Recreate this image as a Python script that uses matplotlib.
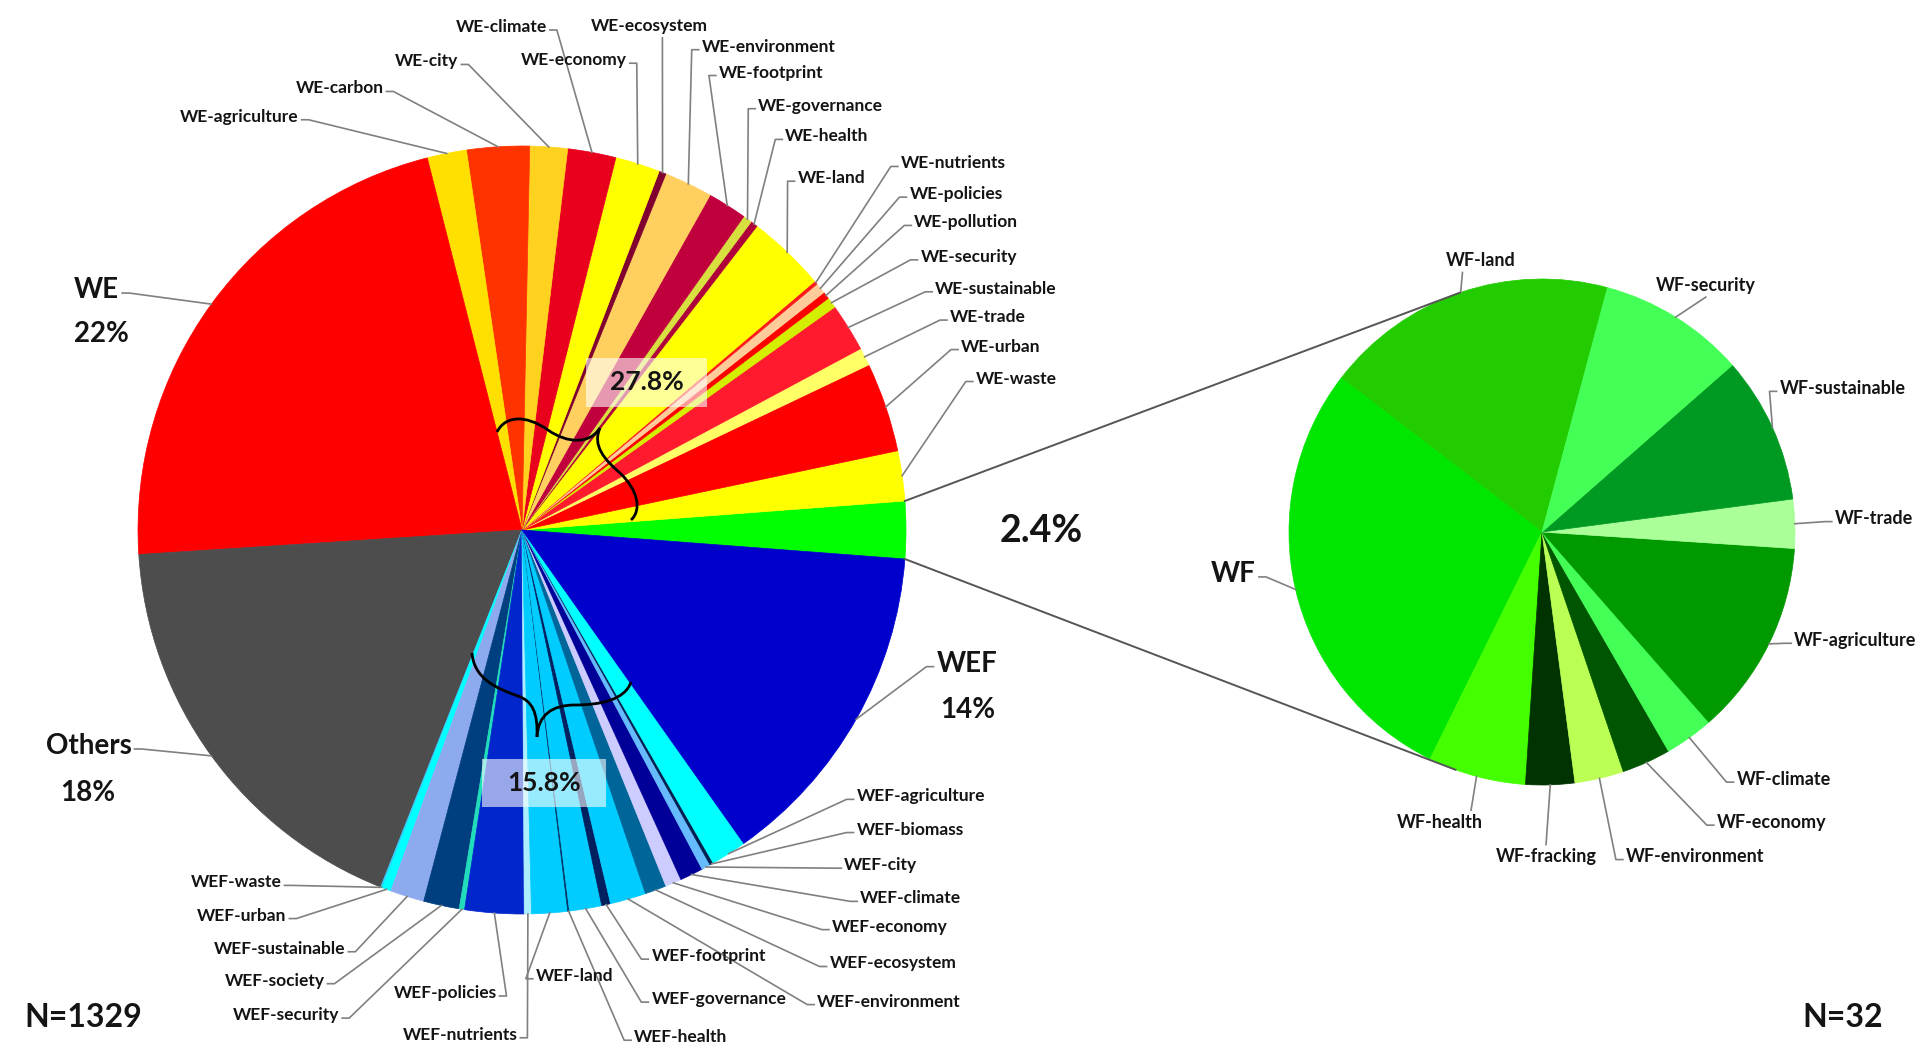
import matplotlib
matplotlib.use('Agg')
import matplotlib.pyplot as plt
from matplotlib.path import Path
from matplotlib.patches import PathPatch, Rectangle
import numpy as np

# ---------------- data ----------------
total_n = 1329
wf_count = 32
we_sub_names = ['WE-waste', 'WE-urban', 'WE-trade', 'WE-sustainable', 'WE-security',
                'WE-pollution', 'WE-policies', 'WE-nutrients', 'WE-land', 'WE-health',
                'WE-governance', 'WE-footprint', 'WE-environment', 'WE-ecosystem',
                'WE-economy', 'WE-climate', 'WE-city', 'WE-carbon', 'WE-agriculture']
we_sub_counts = [28, 50, 10, 27, 6, 4, 6, 2, 44, 4, 5, 22, 27, 4, 25, 27, 21, 35, 22]
we_count = 293
others_count = 239
wef_sub_names = ['WEF-waste', 'WEF-urban', 'WEF-sustainable', 'WEF-society', 'WEF-security',
                 'WEF-policies', 'WEF-nutrients', 'WEF-land', 'WEF-health', 'WEF-governance',
                 'WEF-footprint', 'WEF-environment', 'WEF-ecosystem', 'WEF-economy',
                 'WEF-climate', 'WEF-city', 'WEF-biomass', 'WEF-agriculture']
wef_sub_counts = [1, 5, 19, 20, 3, 33, 4, 20, 1, 18, 5, 20, 12, 9, 13, 5, 2, 20]
wef_count = 186

wf_names = ['WF-land', 'WF', 'WF-health', 'WF-fracking', 'WF-environment', 'WF-economy',
            'WF-climate', 'WF-agriculture', 'WF-trade', 'WF-sustainable', 'WF-security']
wf_counts = [6, 9, 2, 1, 1, 1, 1, 4, 1, 3, 3]

# ---------------- styles ----------------
we_sub_colors = ['#ffff00', '#ff0000', '#ffff66', '#ff1a2e', '#d4ee00', '#ff0000', '#ffcc99',
                 '#ff1a1a', '#ffff00', '#b0003a', '#d8e040', '#c0003c', '#ffd060', '#800030',
                 '#ffff00', '#e8001c', '#ffd21f', '#ff3300', '#ffe000']
wef_sub_colors = ['#33ccff', '#00ffff', '#8eaaee', '#003f7f', '#22ddbb', '#0026cc', '#aaeeff',
                  '#00ccff', '#003366', '#00ccff', '#002060', '#00ccff', '#006699', '#ccccff',
                  '#000099', '#66bbff', '#002050', '#00ffff']
wf_colors = ['#22cc00', '#00e600', '#44ff00', '#003300', '#bbff55', '#005500', '#44ff55',
             '#009900', '#aaff99', '#009922', '#44ff55']

W, H = 1927, 1060
K = W / 1568.0
FONT = ['Lato', 'DejaVu Sans']
TXT = '#141414'
LINE = '#808080'


def P(x, y):
    return (x, H - y)


def S(x, y):
    return (x * K, H - y * K)


fig = plt.figure(figsize=(W / 100, H / 100), dpi=100)
ax = fig.add_axes([0, 0, 1, 1])

# ---------------- left pie ----------------
left_names = ['WF'] + we_sub_names + ['WE', 'Others'] + wef_sub_names + ['WEF']
left_vals = [wf_count] + we_sub_counts + [we_count, others_count] + wef_sub_counts + [wef_count]
left_cols = ['#00ff00'] + we_sub_colors + ['#ff0000', '#4d4d4d'] + wef_sub_colors + ['#0000cc']
lc = P(522, 530)
lr = 384
start_left = -360.0 * wf_count / total_n / 2
wl, _ = ax.pie(left_vals, colors=left_cols, startangle=start_left, counterclock=True,
               center=lc, radius=lr, frame=True,
               wedgeprops=dict(linewidth=0.5))
for w in wl:
    w.set_edgecolor(w.get_facecolor())
left_w = dict(zip(left_names, wl))

# ---------------- right pie ----------------
rc = P(1542, 532)
rr = 253
wr, _ = ax.pie(wf_counts, colors=wf_colors, startangle=75, counterclock=True,
               center=rc, radius=rr, frame=True, wedgeprops=dict(linewidth=0.5))
for w in wr:
    w.set_edgecolor(w.get_facecolor())
right_w = dict(zip(wf_names, wr))


def edge_pt(center, r, ang):
    t = np.deg2rad(ang)
    return center[0] + r * np.cos(t), center[1] + r * np.sin(t)


def mid(w):
    return 0.5 * (w.theta1 + w.theta2)


def label(name, wedge, center, r, x, y, mode, size=11.5, linex=None, text=None):
    tx, ty = S(x, y)
    ex, ey = edge_pt(center, r, mid(wedge))
    text = name if text is None else text
    kw = dict(fontsize=size, fontweight='bold', family=FONT, color=TXT, va='center')
    if mode == 'left':
        ax.text(tx, ty, text, ha='left', **kw)
        axp, ayp = tx - 3, ty - 3
        ax.plot([ex, axp - 7, axp], [ey, ayp, ayp], color=LINE, lw=1.2)
    elif mode == 'right':
        ax.text(tx, ty, text, ha='right', **kw)
        axp, ayp = tx + 3, ty - 3
        ax.plot([ex, axp + 7, axp], [ey, ayp, ayp], color=LINE, lw=1.2)
    elif mode == 'below':
        ax.text(tx, ty, text, ha='center', **kw)
        lx = linex * K
        ax.plot([ex, lx], [ey, ty - 12], color=LINE, lw=1.2)
    elif mode == 'above':
        ax.text(tx, ty, text, ha='center', **kw)
        lx = linex * K
        ax.plot([ex, lx], [ey, ty + 12], color=LINE, lw=1.2)


left_pos = {
    'WE-agriculture': (243, 95, 'right'), 'WE-carbon': (312, 72, 'right'),
    'WE-city': (373, 50, 'right'), 'WE-climate': (445, 22, 'right'),
    'WE-economy': (510, 49, 'right'), 'WE-ecosystem': (528, 21, 'below', 539),
    'WE-environment': (571, 38, 'left'), 'WE-footprint': (585, 59, 'left'),
    'WE-governance': (617, 86, 'left'), 'WE-health': (639, 111, 'left'),
    'WE-land': (649, 145, 'left'), 'WE-nutrients': (733, 133, 'left'),
    'WE-policies': (740, 158, 'left'), 'WE-pollution': (744, 181, 'left'),
    'WE-security': (749, 209, 'left'), 'WE-sustainable': (761, 235, 'left'),
    'WE-trade': (773, 258, 'left'), 'WE-urban': (782, 282, 'left'),
    'WE-waste': (794, 308, 'left'),
    'WEF-agriculture': (697, 648, 'left'), 'WEF-biomass': (697, 675, 'left'),
    'WEF-city': (687, 704, 'left'), 'WEF-climate': (700, 731, 'left'),
    'WEF-economy': (677, 754, 'left'), 'WEF-ecosystem': (675, 784, 'left'),
    'WEF-environment': (665, 815, 'left'), 'WEF-footprint': (530, 778, 'left'),
    'WEF-governance': (530, 813, 'left'), 'WEF-health': (516, 844, 'left'),
    'WEF-land': (436, 794, 'left'), 'WEF-nutrients': (421, 842, 'right'),
    'WEF-policies': (404, 808, 'right'), 'WEF-security': (276, 826, 'right'),
    'WEF-society': (264, 798, 'right'), 'WEF-sustainable': (281, 772, 'right'),
    'WEF-urban': (233, 745, 'right'), 'WEF-waste': (229, 718, 'right'),
}
for name, spec in left_pos.items():
    lx = spec[3] if len(spec) > 3 else None
    label(name, left_w[name], lc, lr, spec[0], spec[1], spec[2], size=12.5, linex=lx)

right_pos = {
    'WF-land': (1205, 212, 'below', 1190), 'WF-security': (1388, 232, 'below', 1388),
    'WF-sustainable': (1448, 316, 'left'), 'WF-trade': (1493, 422, 'left'),
    'WF-agriculture': (1460, 521, 'left'), 'WF-climate': (1413, 634, 'left'),
    'WF-economy': (1397, 669, 'left'), 'WF-environment': (1323, 697, 'left'),
    'WF-fracking': (1258, 697, 'above', 1258), 'WF-health': (1172, 669, 'above', 1197),
}
for name, spec in right_pos.items():
    lx = spec[3] if len(spec) > 3 else None
    label(name, right_w[name], rc, rr, spec[0], spec[1], spec[2], size=13, linex=lx)

# big labels
BIG = 20
label('WE', left_w['WE'], lc, lr, 97, 236, 'right', size=BIG)
label('Others', left_w['Others'], lc, lr, 107, 607, 'right', size=BIG)
label('WEF', left_w['WEF'], lc, lr, 762, 540, 'left', size=BIG)
label('WF', right_w['WF'], rc, rr, 1022, 467, 'right', size=BIG)


def pct(v):
    p = 100.0 * v / total_n
    return f'{p:.0f}%' if abs(p - round(p)) < 0.1 else f'{p:.1f}%'


big_kw = dict(va='center', fontweight='bold', family=FONT, color=TXT)
ax.text(*S(60, 272), pct(we_count), ha='left', fontsize=BIG, **big_kw)
ax.text(*S(49, 645), pct(others_count), ha='left', fontsize=BIG, **big_kw)
ax.text(*S(765, 578), pct(wef_count), ha='left', fontsize=BIG, **big_kw)
ax.text(*S(847, 432), pct(wf_count), ha='center', fontsize=27, **big_kw)
ax.text(*S(20, 828), f'N={total_n}', ha='left', fontsize=23, **big_kw)
ax.text(*S(1532, 828), f'N={sum(wf_counts)}', ha='right', fontsize=23, **big_kw)

# group boxes
for (x0, y0, x1, y1), val in [((477, 291, 575, 331), sum(we_sub_counts)),
                              ((392, 618, 493, 657), sum(wef_sub_counts))]:
    bx, by = S(x0, y1)
    ax.add_patch(Rectangle((bx, by), (x1 - x0) * K, (y1 - y0) * K, facecolor='white',
                           edgecolor='none', alpha=0.6, zorder=5))
    cx, cy = S((x0 + x1) / 2, (y0 + y1) / 2)
    ax.text(cx, cy, pct(val), ha='center', va='center', fontsize=19, fontweight='bold',
            family=FONT, color=TXT, zorder=6)


# braces
def brace(segs):
    verts = [P(*segs[0])]
    codes = [Path.MOVETO]
    for s in segs[1:]:
        verts += [P(*s[0]), P(*s[1]), P(*s[2])]
        codes += [Path.CURVE4] * 3
    ax.add_patch(PathPatch(Path(verts, codes), facecolor='none', edgecolor='black', lw=2, zorder=4))


brace([(497, 432), ((505, 416), (525, 414), (548, 430)), ((568, 444), (590, 444), (600, 428))])
brace([(600, 428), ((592, 446), (605, 460), (620, 473)), ((638, 490), (642, 510), (631, 520))])
brace([(472, 653), ((474, 678), (495, 688), (518, 696)), ((532, 701), (538, 712), (537, 737))])
brace([(537, 737), ((538, 715), (552, 705), (575, 705)), ((600, 705), (625, 700), (631, 682))])

# connecting lines between pies
wf_w = left_w['WF']
for a_left, a_right in [(wf_w.theta2, 109.0), (wf_w.theta1, 250.0)]:
    p1 = edge_pt(lc, lr, a_left)
    p2 = edge_pt(rc, rr, a_right)
    ax.plot([p1[0], p2[0]], [p1[1], p2[1]], color='#555555', lw=1.4, zorder=3)

ax.set_xlim(0, W)
ax.set_ylim(0, H)
ax.set_aspect('equal')
ax.axis('off')
fig.savefig('out.png', dpi=100, facecolor='white')
